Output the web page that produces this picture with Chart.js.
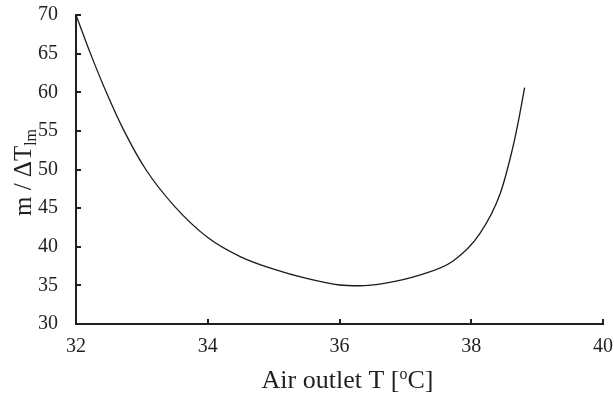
<!DOCTYPE html>
<html>
<head>
<meta charset="utf-8">
<script src="https://cdn.jsdelivr.net/npm/chart.js@4.4.1/dist/chart.umd.min.js"></script>
<style>
  html, body { margin: 0; padding: 0; background: #fff; }
  #wrap { width: 614px; height: 399px; }
</style>
</head>
<body>
<div id="wrap"><canvas id="c" width="614" height="399"></canvas></div>
<script>
// values
const outletT = [32.0, 32.22, 32.46, 32.73, 33.06, 33.5, 34.0, 34.5, 35.0, 35.5, 36.0, 36.3, 36.7, 37.2, 37.73, 38.13, 38.44, 38.61, 38.71, 38.81];
const ratio   = [70.0, 65.0, 60.0, 55.0, 50.0, 45.2, 41.2, 38.7, 37.1, 35.9, 35.05, 34.95, 35.3, 36.3, 38.2, 41.7, 46.9, 52.1, 56.0, 60.6];
const xTicks = [32, 34, 36, 38, 40];
const yTicks = [30, 35, 40, 45, 50, 55, 60, 65, 70];

const ink = '#231f20';
const serif = '"Liberation Serif", "Times New Roman", serif';

let points = outletT.map((t, i) => ({ x: t, y: ratio[i] }));

// inward tick marks + titles with sub/superscripts
const extras = {
    id: 'extras',
    afterDraw(chart) {
        const c = chart.ctx;
        const xs = chart.scales.x, ys = chart.scales.y;
        const a = chart.chartArea;
        c.save();
        c.strokeStyle = ink;
        c.lineWidth = 2;
        c.beginPath();
        xTicks.forEach(v => {
            let px = Math.round(xs.getPixelForValue(v));
            c.moveTo(px, a.bottom);
            c.lineTo(px, a.bottom - 5);
        });
        yTicks.forEach(v => {
            let py = Math.round(ys.getPixelForValue(v));
            c.moveTo(a.left, py);
            c.lineTo(a.left + 5, py);
        });
        c.stroke();

        c.fillStyle = ink;
        c.textBaseline = 'alphabetic';

        // x title: Air outlet T [oC]
        let big = '26px ' + serif, small = '16px ' + serif;
        c.font = big;
        let w1 = c.measureText('Air outlet T [').width;
        let w3 = c.measureText('C]').width;
        c.font = small;
        let w2 = c.measureText('o').width;
        let total = w1 + w2 + w3;
        let x0 = (a.left + a.right) / 2 + 8 - total / 2;
        let base = 388;
        c.font = big;
        c.textAlign = 'left';
        c.fillText('Air outlet T [', x0, base);
        c.font = small;
        c.fillText('o', x0 + w1, base - 9);
        c.font = big;
        c.fillText('C]', x0 + w1 + w2, base);

        // y title: m / ΔT lm
        let yb = '25px ' + serif, ys2 = '16px ' + serif;
        c.font = yb;
        let m1 = c.measureText('m / ΔT').width;
        c.font = ys2;
        let m2 = c.measureText('lm').width;
        c.translate(31, (a.top + a.bottom) / 2 + 3);
        c.rotate(-Math.PI / 2);
        let s0 = -(m1 + m2) / 2;
        c.font = yb;
        c.fillText('m / ΔT', s0, 0);
        c.font = ys2;
        c.fillText('lm', s0 + m1, 5);
        c.restore();
    }
};

new Chart(document.getElementById('c'), {
    type: 'scatter',
    data: {
        datasets: [{
            data: points,
            showLine: true,
            borderColor: '#1a1a1a',
            borderWidth: 1.3,
            pointRadius: 0,
            cubicInterpolationMode: 'monotone',
            fill: false
        }]
    },
    options: {
        responsive: false,
        animation: false,
        layout: { padding: { top: 15, right: 11, left: 0, bottom: 0 } },
        plugins: { legend: { display: false }, tooltip: { enabled: false } },
        scales: {
            x: {
                type: 'linear',
                min: 32, max: 40,
                afterBuildTicks: s => { s.ticks = xTicks.map(v => ({ value: v })); },
                afterFit: s => { s.height = 75; s.paddingLeft = 0; s.paddingRight = 0; },
                grid: { display: true, drawOnChartArea: false, drawTicks: false },
                border: { display: true, color: ink, width: 2 },
                ticks: { color: ink, padding: 11, font: { family: serif, size: 20 } }
            },
            y: {
                type: 'linear',
                min: 30, max: 70,
                afterBuildTicks: s => { s.ticks = yTicks.map(v => ({ value: v })); },
                afterFit: s => { s.width = 76; s.paddingTop = 0; s.paddingBottom = 0; },
                grid: { display: true, drawOnChartArea: false, drawTicks: false },
                border: { display: true, color: ink, width: 2 },
                ticks: { color: ink, padding: 18, font: { family: serif, size: 20 } }
            }
        }
    },
    plugins: [extras]
});
</script>
</body>
</html>
